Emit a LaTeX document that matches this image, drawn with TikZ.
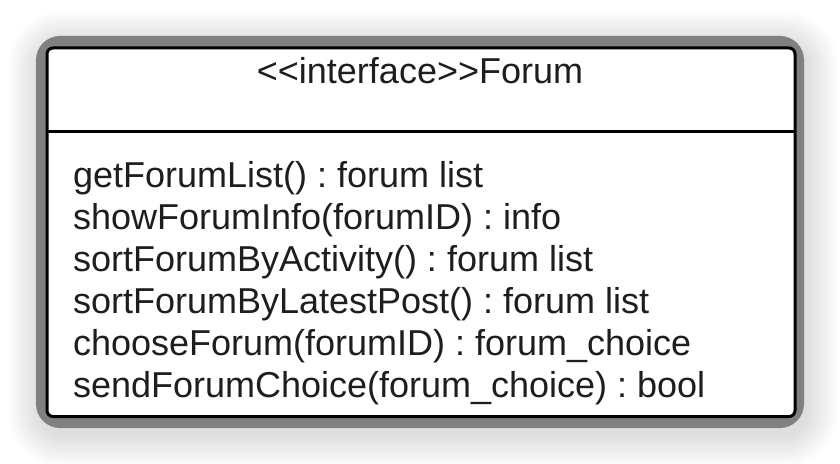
\documentclass[tikz,border=0pt]{standalone}
\usepackage{fontspec}
\setmainfont{Liberation Sans}
\definecolor{framegray}{HTML}{808080}
\definecolor{txt}{HTML}{1E1E1E}
\frenchspacing
\begin{document}
\begin{tikzpicture}[x=0.5pt,y=-0.5pt,
  every node/.style={inner sep=0pt,outer sep=0pt,font=\fontsize{18pt}{21pt}\selectfont,text=txt},
  meth/.style={anchor=base west},
  shadowlayer/.style={fill=black,opacity=0.009},
  frame/.style={fill=framegray,rounded corners=12pt},
  classbox/.style={draw=black,line width=1.5pt,fill=white,rounded corners=3pt}]
\useasboundingbox (0,0) rectangle (840,464);
% soft shadow
\foreach \i in {1,...,16}{
  \fill[shadowlayer,rounded corners={12pt+\i*1pt}]
    ({36-2*\i+3},{36-2*\i+7}) rectangle ({804+2*\i+3},{428+2*\i+7});
}
% grey frame
\fill[frame] (36,36) rectangle (804,428);
% class box
\draw[classbox] (47,48) rectangle (795,416.5);
\coordinate (dl) at (47,132);
\coordinate (dr) at (795,132);
\draw[line width=1.5pt] (dl) -- (dr);
% texts
\node[anchor=base] (title) at (420,84) {<\kern0pt<interface>\kern0pt>Forum};
\node[meth] (m1) at (73,188) {getForumList() : forum list};
\node[meth] (m2) at (73,230) {showForumInfo(forumID) : info};
\node[meth] (m3) at (73,272) {sortForumByActivity() : forum list};
\node[meth] (m4) at (73,314) {sortForumByLatestPost() : forum list};
\node[meth] (m5) at (73,356) {chooseForum(forumID) : forum\_choice};
\node[meth] (m6) at (73,398) {sendForumChoice(forum\_choice) : bool};
\end{tikzpicture}
\end{document}
